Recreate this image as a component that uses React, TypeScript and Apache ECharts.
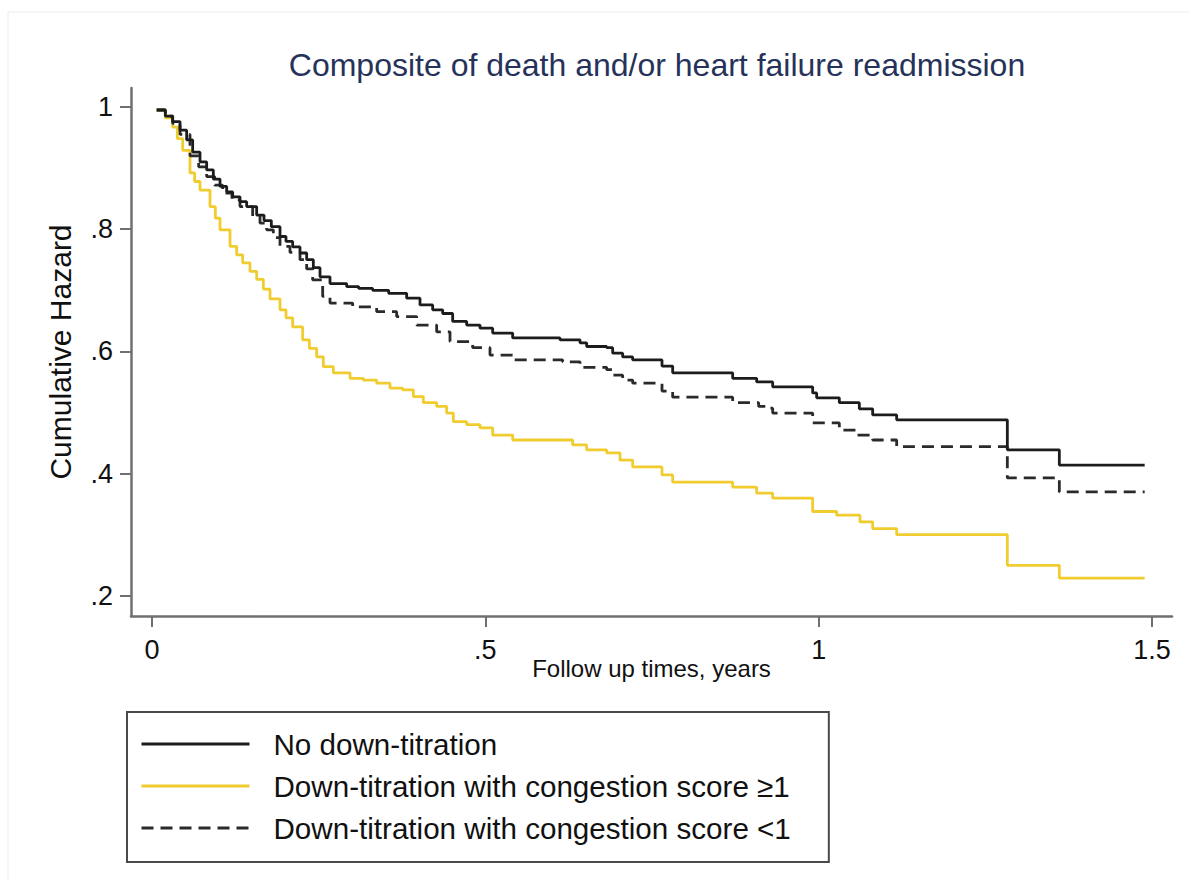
import React, { useEffect, useRef } from "react";
import * as echarts from "echarts";

const titleText = "Composite of death and/or heart failure readmission";
const xAxisName = "Follow up times, years";
const yAxisName = "Cumulative Hazard";

const xTickValues = [0, 0.5, 1, 1.5];
const xTickLabels = ["0", ".5", "1", "1.5"];
const yTickValues = [0.2, 0.4, 0.6, 0.8, 1];
const yTickLabels = [".2", ".4", ".6", ".8", "1"];

const seriesNames = [
  "No down-titration",
  "Down-titration with congestion score \u22651",
  "Down-titration with congestion score <1",
];

// [time (years), value]
const noDownTitration: [number, number][] = [
  [0.007, 0.995], [0.02, 0.985], [0.031, 0.976], [0.042, 0.962], [0.052, 0.946],
  [0.061, 0.926], [0.072, 0.91], [0.082, 0.897], [0.092, 0.882], [0.102, 0.87],
  [0.112, 0.861], [0.121, 0.853], [0.132, 0.845], [0.142, 0.837], [0.157, 0.823],
  [0.168, 0.814], [0.179, 0.804], [0.192, 0.788], [0.201, 0.78], [0.211, 0.771],
  [0.222, 0.761], [0.232, 0.75], [0.242, 0.737], [0.252, 0.722], [0.267, 0.711],
  [0.292, 0.706], [0.31, 0.703], [0.331, 0.7], [0.355, 0.695], [0.382, 0.687],
  [0.402, 0.676], [0.421, 0.668], [0.436, 0.662], [0.451, 0.649], [0.472, 0.643],
  [0.492, 0.638], [0.511, 0.63], [0.541, 0.622], [0.612, 0.619], [0.642, 0.614],
  [0.652, 0.608], [0.682, 0.606], [0.691, 0.597], [0.706, 0.591], [0.721, 0.586],
  [0.765, 0.576], [0.781, 0.565], [0.871, 0.556], [0.907, 0.55], [0.931, 0.542],
  [0.991, 0.532], [0.997, 0.524], [1.031, 0.516], [1.061, 0.506], [1.081, 0.496],
  [1.117, 0.488], [1.283, 0.439], [1.361, 0.414], [1.489, 0.414],
];

const congestionHigh: [number, number][] = [
  [0.007, 0.995], [0.02, 0.982], [0.031, 0.967], [0.038, 0.948], [0.046, 0.929],
  [0.057, 0.892], [0.064, 0.878], [0.072, 0.864], [0.087, 0.837], [0.095, 0.818],
  [0.102, 0.799], [0.117, 0.772], [0.127, 0.758], [0.136, 0.745], [0.147, 0.731],
  [0.157, 0.718], [0.167, 0.702], [0.177, 0.686], [0.192, 0.668], [0.201, 0.655],
  [0.211, 0.64], [0.226, 0.619], [0.236, 0.605], [0.247, 0.591], [0.257, 0.575],
  [0.272, 0.565], [0.297, 0.556], [0.317, 0.553], [0.337, 0.548], [0.357, 0.54],
  [0.376, 0.537], [0.392, 0.526], [0.407, 0.516], [0.427, 0.51], [0.442, 0.499],
  [0.452, 0.485], [0.472, 0.48], [0.492, 0.475], [0.511, 0.463], [0.541, 0.455],
  [0.631, 0.447], [0.652, 0.439], [0.682, 0.434], [0.702, 0.422], [0.721, 0.411],
  [0.765, 0.398], [0.781, 0.386], [0.871, 0.378], [0.907, 0.368], [0.931, 0.36],
  [0.991, 0.338], [1.027, 0.332], [1.062, 0.321], [1.081, 0.31], [1.117, 0.3],
  [1.283, 0.25], [1.361, 0.229], [1.489, 0.229],
];

const congestionLow: [number, number][] = [
  [0.007, 0.995], [0.02, 0.985], [0.031, 0.973], [0.042, 0.955], [0.057, 0.92],
  [0.07, 0.902], [0.082, 0.886], [0.094, 0.872], [0.106, 0.859], [0.12, 0.848],
  [0.132, 0.837], [0.151, 0.821], [0.162, 0.81], [0.172, 0.799], [0.182, 0.786],
  [0.192, 0.772], [0.207, 0.762], [0.222, 0.75], [0.232, 0.735], [0.241, 0.717],
  [0.256, 0.69], [0.267, 0.679], [0.301, 0.673], [0.337, 0.665], [0.367, 0.657],
  [0.397, 0.643], [0.427, 0.632], [0.447, 0.616], [0.481, 0.606], [0.507, 0.594],
  [0.541, 0.586], [0.616, 0.583], [0.642, 0.574], [0.682, 0.57], [0.691, 0.561],
  [0.706, 0.553], [0.721, 0.548], [0.765, 0.535], [0.781, 0.525], [0.871, 0.516],
  [0.91, 0.51], [0.922, 0.507], [0.931, 0.499], [0.991, 0.483], [1.031, 0.471],
  [1.056, 0.463], [1.081, 0.455], [1.117, 0.444], [1.283, 0.393], [1.361, 0.37],
  [1.489, 0.37],
];

const FONT = "'Liberation Sans', Arial, sans-serif";

function labelFor(values: number[], labels: string[], v: number): string {
  const i = values.findIndex((t) => Math.abs(t - v) < 1e-9);
  return i >= 0 ? labels[i] : "";
}

export default function App() {
  const ref = useRef<HTMLDivElement>(null);

  useEffect(() => {
    if (!ref.current) return;
    const chart = echarts.init(ref.current, undefined, { renderer: "svg" });
    const axisColor = "#707070";
    chart.setOption({
      animation: false,
      backgroundColor: "#ffffff",
      title: {
        text: titleText,
        left: 652,
        textAlign: "center",
        top: 44,
        textStyle: {
          fontFamily: FONT,
          fontSize: 32,
          fontWeight: "normal",
          color: "#26325a",
        },
      },
      graphic: [
        {
          type: "rect",
          shape: { x: 8, y: 12, width: 1200, height: 900 },
          style: { fill: "none", stroke: "#ececec", lineWidth: 1 },
          silent: true,
        },
      ],
      legend: {
        orient: "vertical",
        left: 127,
        top: 712,
        padding: [17, 38, 19, 13],
        itemWidth: 108,
        itemHeight: 14,
        itemGap: 12,
        borderColor: "#4a4a4a",
        borderWidth: 2,
        backgroundColor: "#ffffff",
        selectedMode: false,
        itemStyle: { opacity: 0, borderWidth: 0 },
        lineStyle: { width: 3 },
        textStyle: {
          fontFamily: FONT,
          fontSize: 29.6,
          color: "#111111",
          lineHeight: 30,
          padding: [0, 0, 0, 19],
        },
        data: seriesNames,
      },
      grid: {
        left: 131,
        top: 88,
        width: 1041,
        height: 528,
        containLabel: false,
      },
      xAxis: {
        type: "value",
        min: -0.0315,
        max: 1.53,
        name: xAxisName,
        nameLocation: "middle",
        nameGap: 40,
        nameMoveOverlap: false,
        nameTextStyle: { fontFamily: FONT, fontSize: 24, color: "#111111" },
        splitLine: { show: false },
        axisLine: { show: true, onZero: false, lineStyle: { color: axisColor, width: 2.5 } },
        axisTick: {
          show: true,
          length: 11,
          customValues: xTickValues,
          lineStyle: { color: axisColor, width: 2 },
        },
        axisLabel: {
          customValues: xTickValues,
          margin: 20,
          fontFamily: FONT,
          fontSize: 27,
          color: "#111111",
          formatter: (v: number) => labelFor(xTickValues, xTickLabels, v),
        },
      },
      yAxis: {
        type: "value",
        min: 0.167,
        max: 1.031,
        name: yAxisName,
        nameLocation: "middle",
        nameRotate: 90,
        nameGap: 56,
        nameMoveOverlap: false,
        nameTextStyle: { fontFamily: FONT, fontSize: 30, color: "#111111" },
        splitLine: { show: false },
        axisLine: { show: true, onZero: false, lineStyle: { color: axisColor, width: 2.5 } },
        axisTick: {
          show: true,
          length: 11,
          customValues: yTickValues,
          lineStyle: { color: axisColor, width: 2 },
        },
        axisLabel: {
          customValues: yTickValues,
          margin: 18,
          fontFamily: FONT,
          fontSize: 27,
          color: "#111111",
          formatter: (v: number) => labelFor(yTickValues, yTickLabels, v),
        },
      },
      series: [
        {
          name: seriesNames[0],
          type: "line",
          step: "end",
          data: noDownTitration,
          symbol: "none",
          showSymbol: false,
          z: 3,
          lineStyle: { color: "#1c1c1c", width: 2.8, type: "solid" },
          itemStyle: { color: "#1c1c1c" },
        },
        {
          name: seriesNames[1],
          type: "line",
          step: "end",
          data: congestionHigh,
          symbol: "none",
          showSymbol: false,
          z: 2,
          lineStyle: { color: "#f0cc2e", width: 2.8, type: "solid" },
          itemStyle: { color: "#f0cc2e" },
        },
        {
          name: seriesNames[2],
          type: "line",
          step: "end",
          data: congestionLow,
          symbol: "none",
          showSymbol: false,
          z: 2,
          lineStyle: { color: "#2a2a2a", width: 2.8, type: [12, 7] },
          itemStyle: { color: "#2a2a2a" },
        },
      ],
    });
    return () => {
      chart.dispose();
    };
  }, []);

  return (
    <div
      ref={ref}
      style={{ position: "absolute", left: 0, top: 0, width: 1189, height: 881 }}
    />
  );
}
